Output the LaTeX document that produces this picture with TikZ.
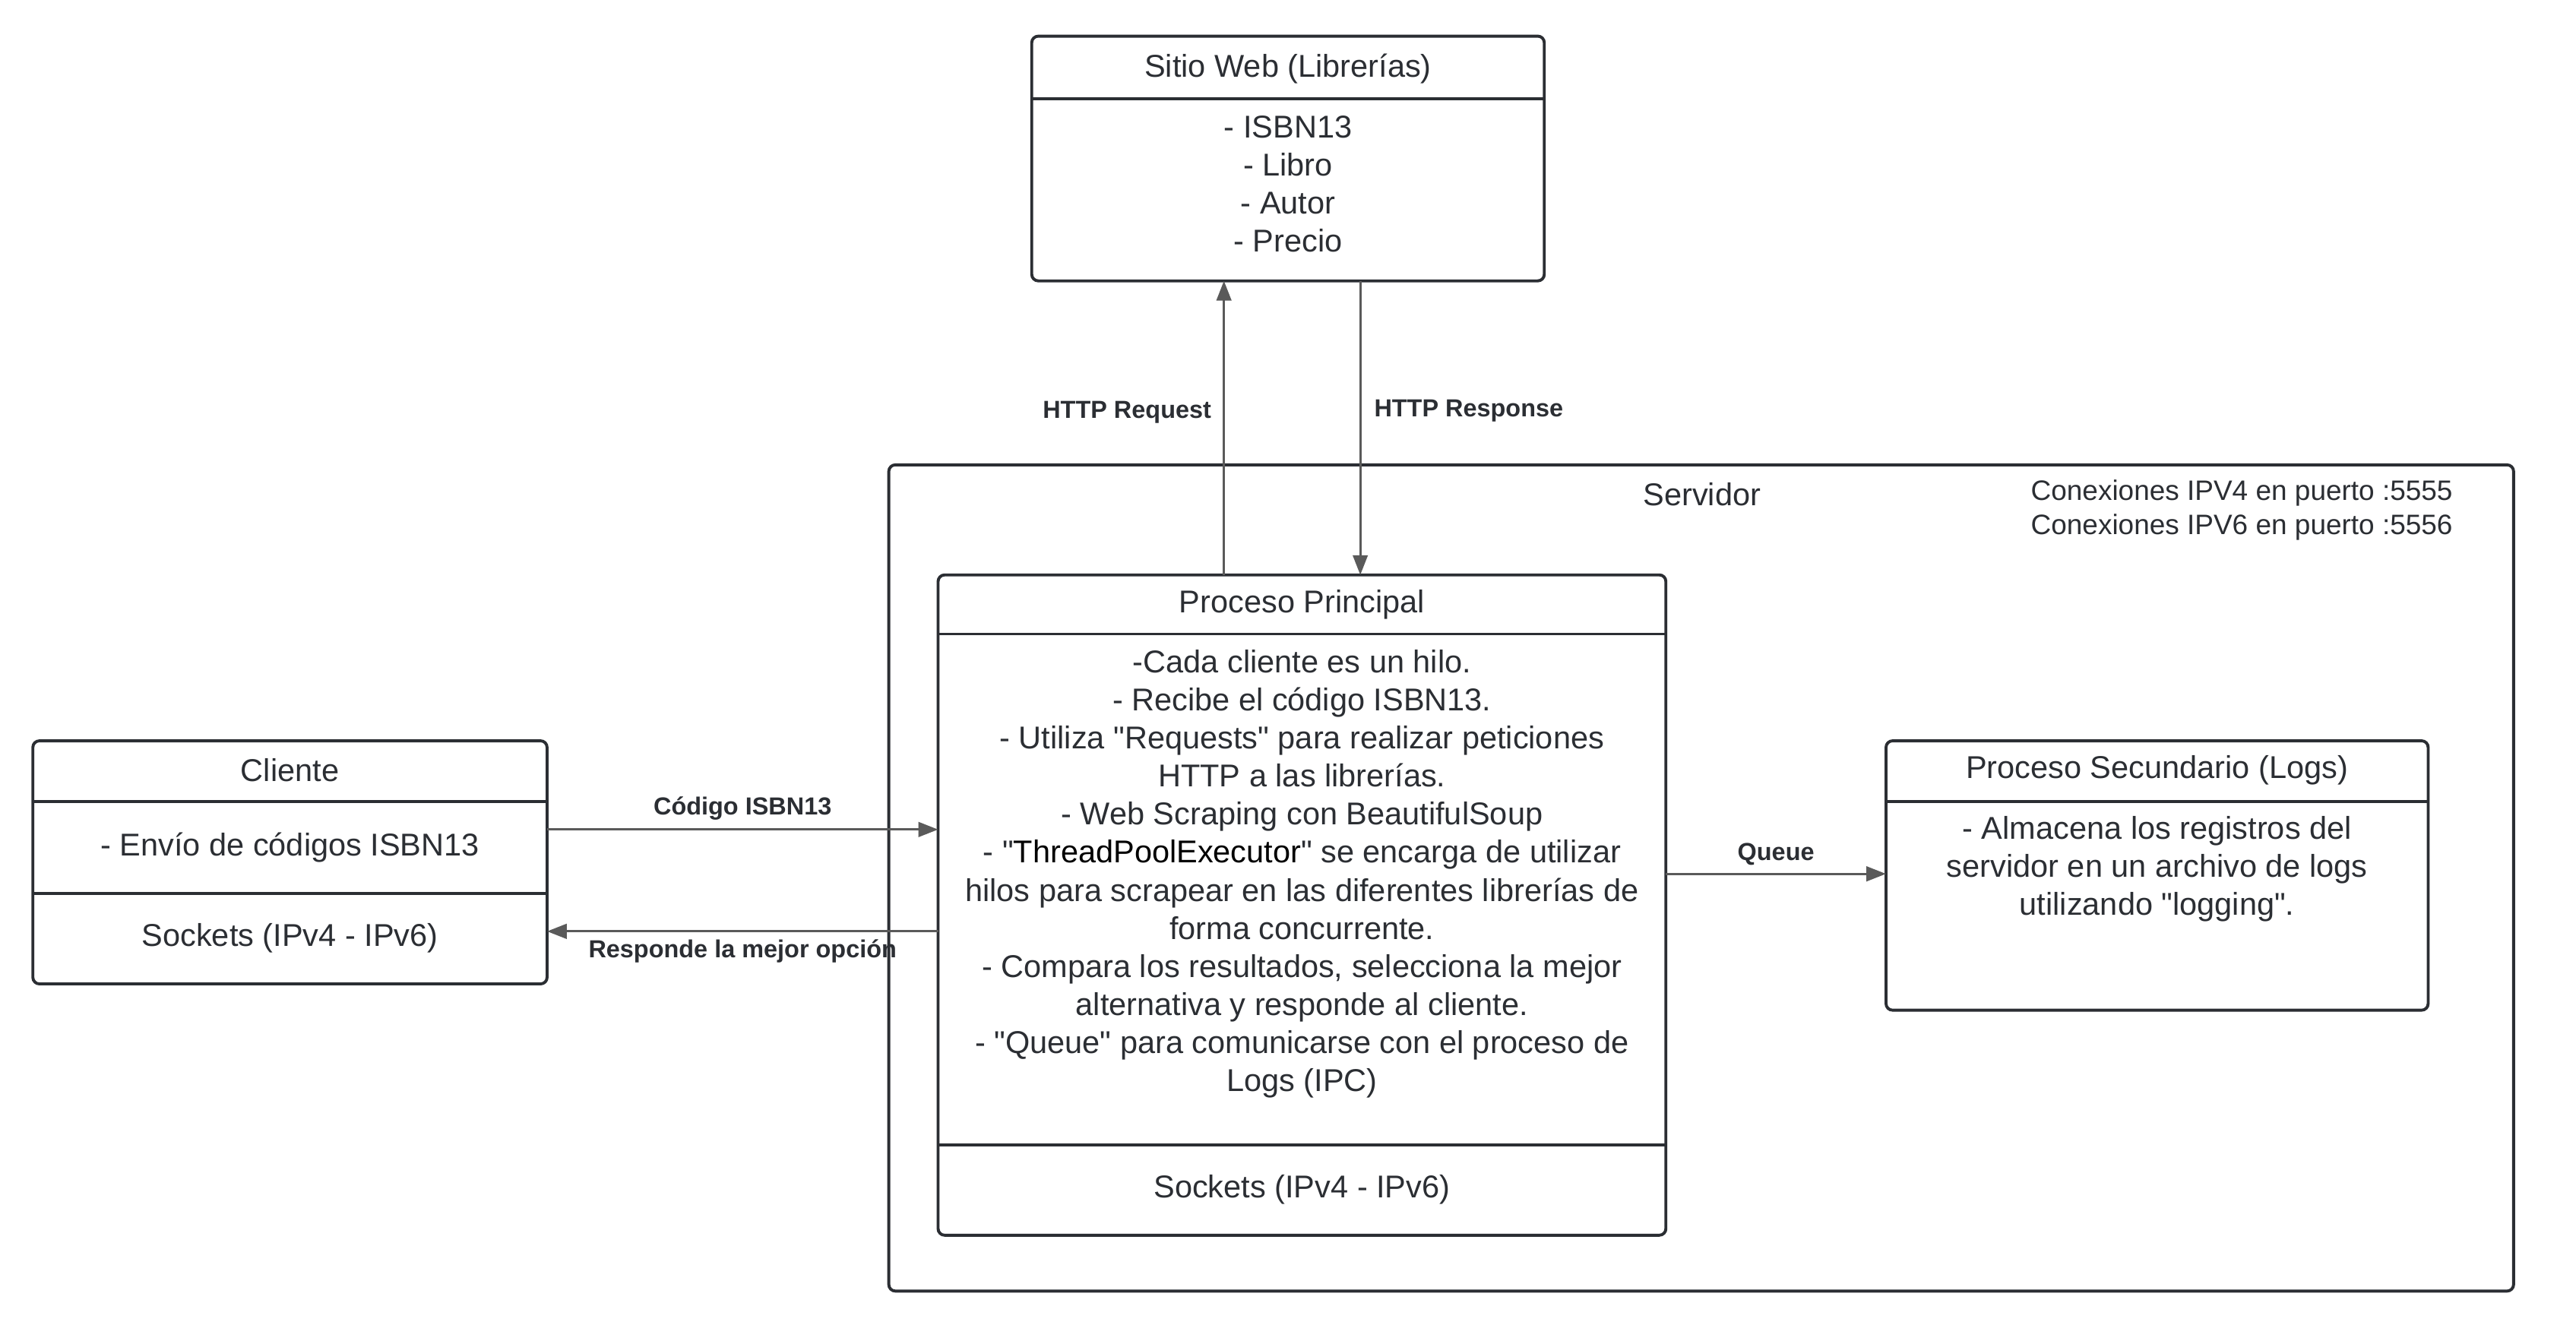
\documentclass[tikz,border=0pt]{standalone}
\usepackage{fontspec}
\setmainfont{Liberation Sans}[Ligatures=TeXOff]
\usetikzlibrary{arrows.meta}
\definecolor{ink}{HTML}{2B2E33}
\definecolor{wire}{HTML}{5A5A5A}
\tikzset{
  box/.style={draw=ink, line width=1.8pt, rounded corners=4pt, anchor=north west, inner sep=0pt, outer sep=0pt},
  rule/.style={draw=ink, line width=1.8pt},
  txt/.style={text=ink, font=\fontsize{19.2}{23.2}\selectfont, align=center, inner sep=0pt, yshift=-2pt},
  lbl/.style={text=ink, font=\fontsize{15}{18}\selectfont\bfseries, inner sep=0pt, yshift=-2pt},
  note/.style={text=ink, font=\fontsize{17.1}{21}\selectfont, align=left, inner sep=0pt, anchor=west, yshift=-2pt},
  arrow/.style={draw=wire, line width=1.4pt, -{Triangle[length=12pt,width=9pt]}},
}
\begin{document}
\begin{tikzpicture}[x=1pt, y=-1pt]
  % canvas
  \fill[white] (0,0) rectangle (1568,818);
  \useasboundingbox (0,0) rectangle (1568,818);

  % server container
  \node[box, minimum width=989pt, minimum height=503pt] (srv) at (541,283) {};
  \node[txt] (srvname) at (1036,299) {Servidor};
  \node[note] (ports) at (1236,308.5) {Conexiones IPV4 en puerto :5555\\Conexiones IPV6 en puerto :5556};

  % web site
  \node[box, minimum width=312pt, minimum height=149pt] (web) at (628,22) {};
  \draw[rule] ([yshift=-38pt]web.north west) -- ([yshift=-38pt]web.north east);
  \node[txt] (webtitle) at (784,40) {Sitio Web (Librerías)};
  \node[txt] (webbody) at (784,110) {- ISBN13\\- Libro\\- Autor\\- Precio};

  % main process
  \node[box, minimum width=443pt, minimum height=402pt] (pp) at (571,350) {};
  \draw[rule] ([yshift=-36pt]pp.north west) -- ([yshift=-36pt]pp.north east);
  \draw[rule] ([yshift=-347pt]pp.north west) -- ([yshift=-347pt]pp.north east);
  \node[txt] (pptitle) at (792.5,366) {Proceso Principal};
  \node[txt] (ppbody) at (792.5,530) {-Cada cliente es un hilo.\\
    - Recibe el código ISBN13.\\
    - Utiliza "Requests" para realizar peticiones\\
    HTTP a las librerías.\\
    - Web Scraping con BeautifulSoup\\
    - "\textcolor{black}{ThreadPoolExecutor}" se encarga de utilizar\\
    hilos para scrapear en las diferentes librerías de\\
    forma concurrente.\\
    - Compara los resultados, selecciona la mejor\\
    alternativa y responde al cliente.\\
    - "Queue" para comunicarse con el proceso de\\
    Logs (IPC)};
  \node[txt] (ppsock) at (792.5,722) {Sockets (IPv4 - IPv6)};

  % client
  \node[box, minimum width=313pt, minimum height=148pt] (cli) at (20,451) {};
  \draw[rule] ([yshift=-37pt]cli.north west) -- ([yshift=-37pt]cli.north east);
  \draw[rule] ([yshift=-93pt]cli.north west) -- ([yshift=-93pt]cli.north east);
  \node[txt] (clititle) at (176.5,467) {Cliente};
  \node[txt] (clibody) at (176.5,514) {- Envío de códigos ISBN13};
  \node[txt] (clisock) at (176.5,569) {Sockets (IPv4 - IPv6)};

  % logging process
  \node[box, minimum width=330pt, minimum height=164pt] (sec) at (1148,451) {};
  \draw[rule] ([yshift=-37pt]sec.north west) -- ([yshift=-37pt]sec.north east);
  \node[txt] (sectitle) at (1313,467) {Proceso Secundario (Logs)};
  \node[txt] (secbody) at (1313,527) {- Almacena los registros del\\servidor en un archivo de logs\\utilizando "logging".};

  % connectors
  \draw[arrow] ([xshift=174pt]pp.north west) -- ([xshift=174pt]pp.north west |- web.south);
  \draw[arrow] ([xshift=257pt]pp.north west |- web.south) -- ([xshift=257pt]pp.north west);
  \draw[arrow] ([yshift=20pt]cli.east) -- ([yshift=20pt]cli.east -| pp.west);
  \draw[arrow] ([yshift=-42pt]cli.east -| pp.west) -- ([yshift=-42pt]cli.east);
  \draw[arrow] ([yshift=19pt]pp.east) -- ([yshift=19pt]pp.east -| sec.west);

  % connector labels
  \node[lbl] (lreq) at (686,249) {HTTP Request};
  \node[lbl] (lresp) at (894,248) {HTTP Response};
  \node[lbl] (lisbn) at (452,490) {Código ISBN13};
  \node[lbl] (lbest) at (452,577) {Responde la mejor opción};
  \node[lbl] (lqueue) at (1081,518) {Queue};
\end{tikzpicture}
\end{document}
